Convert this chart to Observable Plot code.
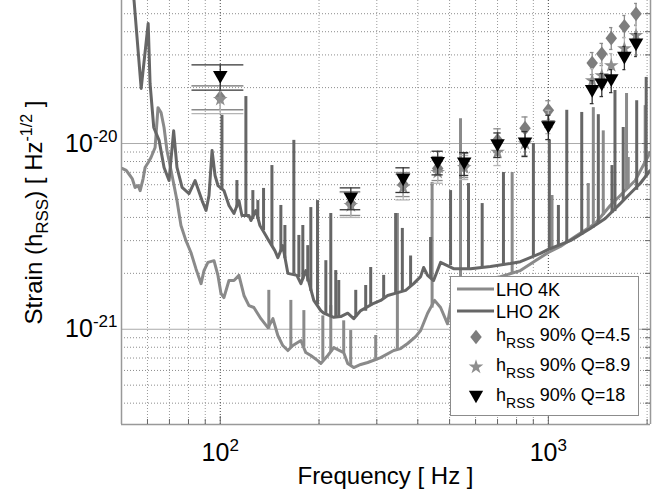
<!DOCTYPE html>
<html><head><meta charset="utf-8">
<script src="https://cdn.jsdelivr.net/npm/d3@7"></script>
<script src="https://cdn.jsdelivr.net/npm/@observablehq/plot@0.6"></script>
<style>
html,body{margin:0;padding:0;background:#fff;}
#chart svg{display:block;}
text{white-space:pre;}
</style>
</head><body><div id="chart"></div>
<script>
// Noise curves [frequency Hz, strain]
const lho4k = [[50.2,7.34e-21],[51.7,7.16e-21],[52.8,6.81e-21],[53.9,6.48e-21],[55.0,5.80e-21],[56.2,5.94e-21],[57.0,5.58e-21],[58.2,6.48e-21],[59.0,7.43e-21],[60.3,7.90e-21],[61.5,8.41e-21],[63.3,9.52e-21],[64.6,1.56e-20],[66.0,1.47e-20],[67.4,1.22e-20],[68.8,9.17e-21],[70.3,7.61e-21],[71.8,6.32e-21],[73.8,4.93e-21],[75.9,3.62e-21],[78.6,3.00e-21],[81.4,2.59e-21],[84.3,2.12e-21],[87.4,1.76e-21],[89.2,2.07e-21],[91.7,2.29e-21],[95.7,2.34e-21],[98.4,1.95e-21],[100.5,1.56e-21],[102.6,1.48e-21],[106.3,1.83e-21],[110.1,1.83e-21],[114.0,1.95e-21],[118.1,1.52e-21],[122.3,1.34e-21],[126.6,1.31e-21],[133.0,1.14e-21],[139.7,1.02e-21],[144.7,1.14e-21],[149.8,9.25e-22],[155.1,8.17e-22],[160.7,7.68e-22],[166.4,8.17e-22],[176.1,8.70e-22],[182.3,7.49e-22],[188.8,7.22e-22],[198.3,6.78e-22],[202.5,6.54e-22],[212.7,7.22e-22],[221.8,7.97e-22],[237.8,7.49e-22],[244.6,6.54e-22],[255.1,6.22e-22],[268.0,6.46e-22],[281.5,6.62e-22],[308.3,7.04e-22],[337.7,7.68e-22],[354.6,7.87e-22],[372.5,8.38e-22],[394.0,9.13e-22],[408.0,9.84e-22],[428.5,1.22e-21],[450.0,1.43e-21],[469.3,1.31e-21],[492.9,1.07e-21],[503.4,1.34e-21],[521.3,1.62e-21],[559.1,1.68e-21],[599.7,1.76e-21],[666.1,1.87e-21],[714.5,1.92e-21],[821.9,2.07e-21],[913.0,2.34e-21],[1000,2.59e-21],[1088,2.79e-21],[1208,3.16e-21],[1390,3.71e-21],[1544,4.64e-21],[1656,5.25e-21],[1839,6.32e-21],[2043,8.94e-21]];
const lho2k = [[53.5,7.55e-20],[54.6,5.89e-20],[57.4,1.98e-20],[60.3,4.43e-20],[61.1,2.10e-20],[62.7,1.22e-20],[65.1,1.04e-20],[67.4,7.43e-21],[69.8,6.32e-21],[72.1,1.17e-20],[73.8,7.43e-21],[76.5,5.80e-21],[80.3,5.38e-21],[83.8,6.32e-21],[88.0,4.93e-21],[90.5,4.36e-21],[92.4,5.25e-21],[94.4,9.17e-21],[96.4,6.73e-21],[98.4,5.94e-21],[102.6,5.58e-21],[106.3,4.64e-21],[110.1,4.20e-21],[114.0,4.93e-21],[116.4,4.10e-21],[122.3,4.10e-21],[124.0,3.85e-21],[128.4,4.36e-21],[132.1,3.62e-21],[137.7,3.20e-21],[140.6,3.00e-21],[146.7,2.65e-21],[149.8,2.43e-21],[155.1,2.82e-21],[160.7,2.00e-21],[171.2,1.95e-21],[176.1,1.76e-21],[182.3,2.07e-21],[192.8,1.43e-21],[202.5,1.26e-21],[206.8,1.22e-21],[221.8,1.16e-21],[232.9,1.17e-21],[244.6,1.22e-21],[255.1,1.14e-21],[268.0,1.26e-21],[293.6,1.38e-21],[308.3,1.43e-21],[323.8,1.52e-21],[349.7,1.58e-21],[367.3,1.62e-21],[388.5,1.76e-21],[408.0,1.92e-21],[416.7,2.15e-21],[428.5,1.95e-21],[446.9,1.83e-21],[469.3,2.29e-21],[514.1,2.12e-21],[579.1,2.12e-21],[666.1,2.18e-21],[766.4,2.26e-21],[821.9,2.31e-21],[945.6,2.56e-21],[1000,2.69e-21],[1167,3.00e-21],[1342,3.49e-21],[1491,3.95e-21],[1656,4.75e-21],[1776,5.38e-21],[1905,6.09e-21],[2043,7.16e-21]];
// Narrow spectral lines [frequency Hz, floor strain, peak strain]
const lines4k = [[140.6,1.0e-21,1.62e-21],[164.1,7.9e-22,1.43e-21],[179.8,8.0e-22,1.26e-21],[205.4,6.8e-22,1.18e-21],[217.2,7.5e-22,1.34e-21],[237.8,7.5e-22,1.11e-21],[249.8,6.4e-22,9.84e-22],[297.7,6.8e-22,9.25e-22],[346.6,7.7e-22,4.20e-21],[442.2,1.3e-21,6.17e-21],[539.9,1.65e-21,1.36e-20],[775.6,2.0e-21,6.98e-21],[1026,2.65e-21,5.25e-21],[1323,3.4e-21,6.09e-21],[1371,3.5e-21,1.56e-20],[1470,4.1e-21,1.17e-20],[1731,5.6e-21,1.86e-20],[1752,5.7e-21,8.41e-21],[1973,7.5e-21,1.60e-20]];
const lines2k = [[101.2,5.6e-21,1.42e-20],[112.4,4.5e-21,6.32e-21],[119.7,4.1e-21,1.79e-20],[125.7,3.9e-21,5.58e-21],[130.2,3.9e-21,4.93e-21],[135.5,3.4e-21,5.73e-21],[143.7,2.8e-21,7.61e-21],[153.0,2.6e-21,4.64e-21],[157.4,2.4e-21,3.62e-21],[167.6,1.98e-21,1.04e-20],[173.6,1.9e-21,3.20e-21],[178.5,1.85e-21,3.62e-21],[184.8,1.8e-21,2.82e-21],[188.8,1.6e-21,4.52e-21],[197.9,1.35e-21,4.93e-21],[209.8,1.2e-21,2.34e-21],[217.2,1.18e-21,4.20e-21],[224.9,1.16e-21,2.07e-21],[229.7,1.17e-21,1.83e-21],[258.8,1.16e-21,1.62e-21],[277.5,1.25e-21,1.72e-21],[287.4,1.33e-21,2.15e-21],[314.8,1.45e-21,1.95e-21],[342.4,1.55e-21,4.20e-21],[358.9,1.6e-21,3.49e-21],[380.3,1.7e-21,2.48e-21],[437.6,1.9e-21,3.12e-21],[503.4,2.2e-21,5.58e-21],[571.0,2.12e-21,6.09e-21],[628.5,2.15e-21,4.75e-21],[729.7,2.2e-21,6.98e-21],[900.3,2.45e-21,1.0e-20],[1007,2.7e-21,1.04e-20],[1073,2.8e-21,4.64e-21],[1138,2.9e-21,1.51e-20],[1264,3.2e-21,1.47e-20],[1420,3.7e-21,1.43e-20],[1563,4.2e-21,7.61e-21],[1596,4.3e-21,1.93e-20],[1691,4.9e-21,1.22e-20],[1859,5.6e-21,1.70e-20],[1987,6.6e-21,2.27e-20]];

// hRSS 90% upper limits
const freqs  = [100, 250, 361, 460, 554, 700, 849, 1000, 1360, 1455, 1555, 1705, 1850];
const hQ45   = [1.77e-20,4.75e-21,6.01e-21,7.34e-21,7.61e-21,1.04e-20,1.21e-20,1.51e-20,2.71e-20,3.04e-20,3.69e-20,4.28e-20,4.99e-20];
const hQ45lo = [1.52e-20,4.10e-21,5.18e-21,6.32e-21,6.56e-21,8.94e-21,1.05e-20,1.31e-20,2.35e-20,2.63e-20,3.21e-20,3.72e-20,4.32e-20];
const hQ45hi = [2.05e-20,5.51e-21,6.98e-21,8.51e-21,8.84e-21,1.20e-20,1.39e-20,1.70e-20,3.09e-20,3.46e-20,4.21e-20,4.89e-20,5.68e-20];
const hQ89   = [1.73e-20,4.64e-21,5.82e-21,7.00e-21,7.43e-21,8.98e-21,1.00e-20,1.30e-20,2.18e-20,2.32e-20,2.63e-20,3.24e-20,3.82e-20];
const hQ89lo = [1.45e-20,4.00e-21,4.97e-21,6.11e-21,6.40e-21,7.61e-21,8.62e-21,1.13e-20,1.88e-20,2.00e-20,2.27e-20,2.80e-20,3.33e-20];
const hQ89hi = [2.03e-20,5.45e-21,6.81e-21,8.10e-21,8.62e-21,1.05e-20,1.16e-20,1.51e-20,2.53e-20,2.70e-20,3.05e-20,3.72e-20,4.37e-20];
const hQ18   = [2.27e-20,5.04e-21,6.37e-21,7.83e-21,7.78e-21,9.75e-21,9.96e-21,1.22e-20,1.91e-20,2.07e-20,2.18e-20,2.88e-20,3.40e-20];
const hQ18lo = [1.94e-20,4.40e-21,5.45e-21,6.78e-21,6.73e-21,8.41e-21,8.51e-21,1.05e-20,1.64e-20,1.79e-20,1.88e-20,2.50e-20,2.94e-20];
const hQ18hi = [2.65e-20,5.77e-21,7.40e-21,9.09e-21,8.94e-21,1.14e-20,1.16e-20,1.42e-20,2.18e-20,2.38e-20,2.50e-20,3.33e-20,3.91e-20];

const xTicks = [100, 1000];
const yTicks = [1e-21, 1e-20];
const xMinor = [60,70,80,90,200,300,400,500,600,700,800,900,2000];
const yMinor = [4e-22,5e-22,6e-22,7e-22,8e-22,9e-22,2e-21,3e-21,4e-21,5e-21,6e-21,7e-21,8e-21,9e-21,2e-20,3e-20,4e-20,5e-20];
const legendLabels = ["LHO 4K", "LHO 2K", " 90% Q=4.5", " 90% Q=8.9", " 90% Q=18"];

const xDomain = [50, 2048], yDomain = [3.07e-22, 5.89e-20];
const C4K = "#8a8a8a", C2K = "#666666";
const CD = "#7d7d7d", CS = "#8e8e8e", CT = "#000000";
const font = "'Liberation Sans', Arial, Helvetica, sans-serif";
const CAP = 18; // errorbar tee half-width (Hz)
const LW = 3;

const pts = (h, lo, hi) => freqs.map((f, i) => ({f, h: h[i], lo: lo[i], hi: hi[i]}));
const q45 = pts(hQ45, hQ45lo, hQ45hi), q89 = pts(hQ89, hQ89lo, hQ89hi), q18 = pts(hQ18, hQ18lo, hQ18hi);

const diamond = {draw(ctx, size) { const r = Math.sqrt(size / Math.PI), a = 1.6 * r, b = 1.25 * r;
  ctx.moveTo(0, -a); ctx.lineTo(b, 0); ctx.lineTo(0, a); ctx.lineTo(-b, 0); ctx.closePath(); }};
const triDown = {draw(ctx, size) { const r = Math.sqrt(size / Math.PI), w = 1.55 * r, h = 1.35 * r;
  ctx.moveTo(-w, -h); ctx.lineTo(w, -h); ctx.lineTo(0, h); ctx.closePath(); }};

function errMarks(data, color) {
  return [
    Plot.ruleX(data, {x: "f", y1: "lo", y2: "hi", stroke: color, strokeWidth: 1.3}),
    Plot.ruleY(data, {y: "lo", x1: d => d.f - CAP, x2: d => d.f + CAP, stroke: color, strokeWidth: 1.3}),
    Plot.ruleY(data, {y: "hi", x1: d => d.f - CAP, x2: d => d.f + CAP, stroke: color, strokeWidth: 1.3})
  ];
}
const expFmt = d => `10^${Math.round(Math.log10(d))}`;

const W = 667, H = 497, ML = 121, MR = 17, MT = 0, MB = 73;
const FW = W - ML - MR, FH = H - MT - MB;

const svg = Plot.plot({
  width: W, height: H, marginLeft: ML, marginRight: MR, marginTop: MT, marginBottom: MB,
  x: {type: "log", domain: xDomain},
  y: {type: "log", domain: yDomain},
  style: {fontFamily: font, background: "#fff", color: "#000"},
  marks: [
    Plot.ruleY(yMinor, {stroke: "#8c8c8c", strokeDasharray: "1,2"}),
    Plot.ruleY(yTicks, {stroke: "#ababab"}),
    Plot.ruleX(xMinor, {stroke: "#9a9a9a", strokeDasharray: "1,2"}),
    Plot.ruleX(xTicks, {stroke: "#444", strokeDasharray: "1,2"}),
    Plot.line(lho4k, {x: d => d[0], y: d => d[1], stroke: C4K, strokeWidth: LW, clip: true}),
    Plot.ruleX(lines4k, {x: d => d[0], y1: d => d[1], y2: d => d[2], stroke: C4K, strokeWidth: LW, clip: true}),
    Plot.line(lho2k, {x: d => d[0], y: d => d[1], stroke: C2K, strokeWidth: LW, clip: true}),
    Plot.ruleX(lines2k, {x: d => d[0], y1: d => d[1], y2: d => d[2], stroke: C2K, strokeWidth: LW, clip: true}),
    ...errMarks(q45, "#8a8a8a"),
    Plot.dot(q45, {x: "f", y: "h", symbol: diamond, r: 4.6, fill: CD, stroke: null}),
    ...errMarks(q89, "#b5b5b5"),
    Plot.dot(q89, {x: "f", y: "h", symbol: "star", r: 4.6, fill: CS, stroke: null}),
    ...errMarks(q18, "#333333"),
    Plot.dot(q18, {x: "f", y: "h", symbol: triDown, r: 4.7, fill: CT, stroke: null}),
    Plot.ruleX(xDomain, {stroke: "#999", strokeWidth: 1.5}),
    Plot.ruleY([yDomain[0]], {stroke: "#999", strokeWidth: 1.5}),
    Plot.tickX(xMinor, {x: d => d, insetTop: FH - 5, stroke: "#666"}),
    Plot.tickX(xTicks, {x: d => d, insetTop: FH - 8, stroke: "#666"}),
    Plot.tickY(yMinor, {y: d => d, insetLeft: FW - 5, stroke: "#666"}),
    Plot.tickY(yTicks, {y: d => d, insetLeft: FW - 8, stroke: "#666"}),
    Plot.axisX({ticks: xTicks, tickSize: 0, tickPadding: 19, fontSize: 25, tickFormat: expFmt, label: null}),
    Plot.axisY({ticks: yTicks, tickSize: 0, tickPadding: 4, fontSize: 25, tickFormat: expFmt, label: null})
  ]
});

const NS = "http://www.w3.org/2000/svg";
svg.querySelectorAll("text").forEach(t => {
  const m = /^10\^(-?\d+)$/.exec(t.textContent);
  if (!m) return;
  t.textContent = "";
  const a = document.createElementNS(NS, "tspan"); a.textContent = "10"; t.appendChild(a);
  const b = document.createElementNS(NS, "tspan"); b.textContent = m[1];
  b.setAttribute("dy", "-10"); b.setAttribute("font-size", "17"); t.appendChild(b);
  t.setAttribute("font-size", "25"); t.setAttribute("fill", "#000");
});

const g = d3.select(svg);
g.append("text").attr("x", ML + FW / 2).attr("y", 484).attr("text-anchor", "middle")
  .attr("font-size", 24).attr("font-family", font).attr("fill", "#000").text("Frequency [ Hz ]");
const yl = g.append("text").attr("transform", "translate(42,212.5) rotate(-90)").attr("text-anchor", "middle")
  .attr("font-size", 24).attr("font-family", font).attr("fill", "#000");
yl.append("tspan").text("Strain (h");
yl.append("tspan").attr("font-size", 17).attr("dy", 6).text("RSS");
yl.append("tspan").attr("dy", -6).text(") [ Hz");
yl.append("tspan").attr("font-size", 16).attr("dy", -10).text("-1/2");
yl.append("tspan").attr("dy", 10).text(" ]");

// Legend
const L = g.append("g").attr("font-family", font).attr("fill", "#000").attr("text-anchor", "start");
L.append("rect").attr("x", 450.5).attr("y", 276.5).attr("width", 188).attr("height", 139)
  .attr("fill", "#fff").attr("stroke", "#8c8c8c");
[[C4K, 289, 296, legendLabels[0]], [C2K, 311, 318, legendLabels[1]]].forEach(([c, ly, ty, lab]) => {
  L.append("line").attr("x1", 457).attr("x2", 494).attr("y1", ly).attr("y2", ly).attr("stroke", c).attr("stroke-width", LW);
  L.append("text").attr("x", 496).attr("y", ty).attr("font-size", 18).attr("text-anchor", "start").text(lab);
});
[[diamond, CD, 337, 341, legendLabels[2]], [d3.symbolStar, CS, 367, 371, legendLabels[3]], [triDown, CT, 397, 401, legendLabels[4]]]
  .forEach(([sym, c, my, ty, lab]) => {
    L.append("path").attr("transform", `translate(476,${my})`).attr("fill", c)
      .attr("d", d3.symbol(sym, Math.PI * 4.6 * 4.6)());
    const t = L.append("text").attr("x", 496).attr("y", ty).attr("font-size", 18).attr("text-anchor", "start");
    t.append("tspan").text("h");
    t.append("tspan").attr("font-size", 14).attr("dy", 7).text("RSS");
    t.append("tspan").attr("dy", -7).text(lab);
  });

document.getElementById("chart").appendChild(svg);
</script>
</body></html>
